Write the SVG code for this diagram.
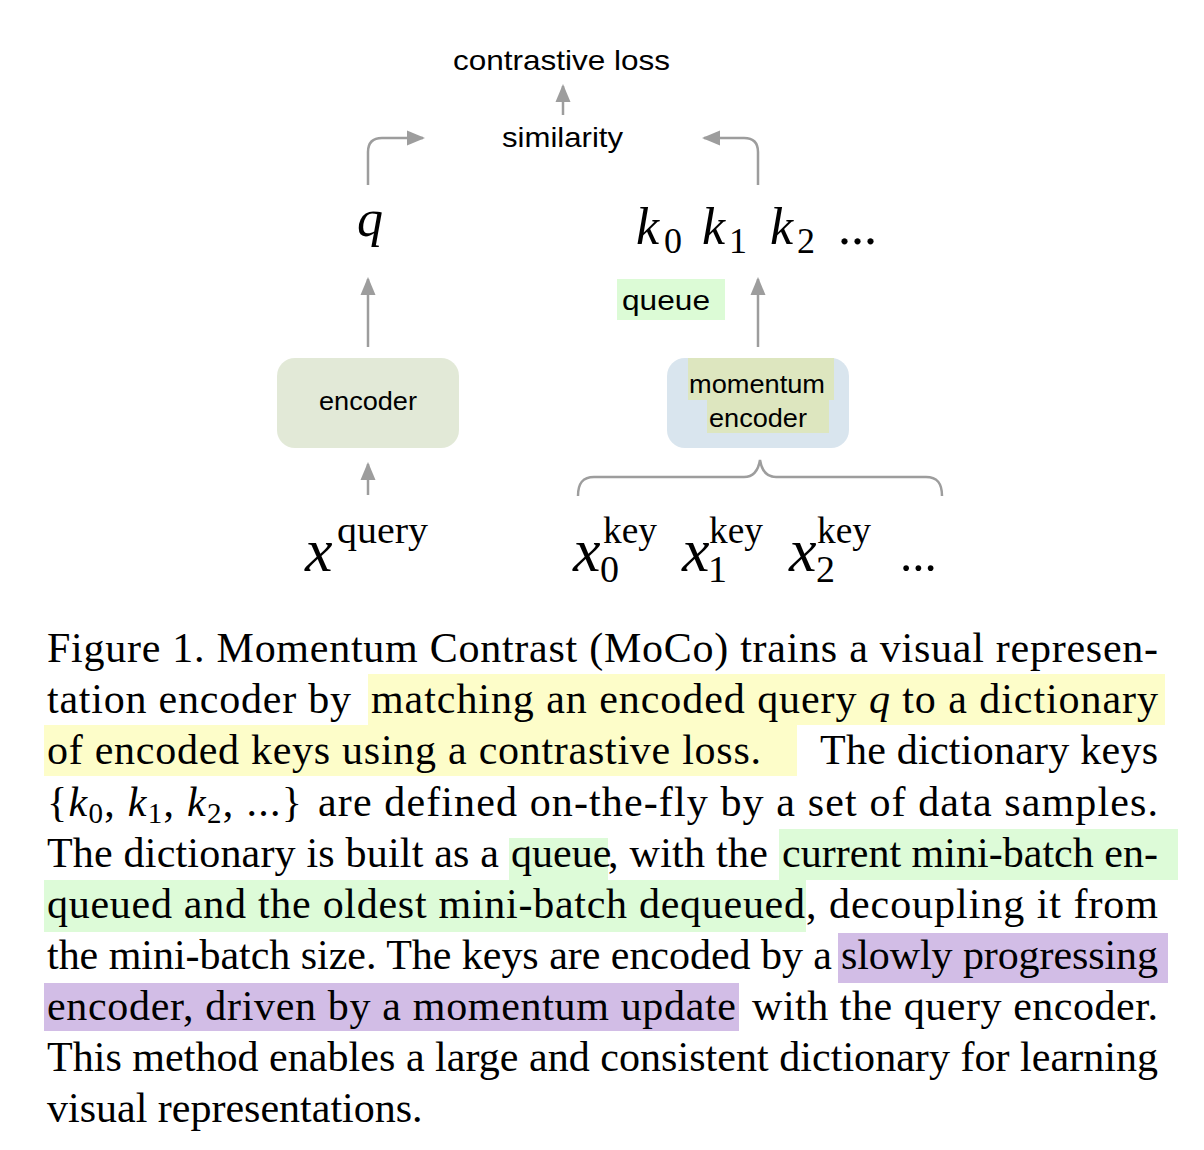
<svg xmlns="http://www.w3.org/2000/svg" width="1204" height="1150" viewBox="0 0 1204 1150">
<defs>
<marker id="ah" markerUnits="userSpaceOnUse" markerWidth="20" markerHeight="16" refX="16" refY="8" orient="auto"><path d="M0,0.5 L18,8 L0,15.5 z" fill="#9d9d9d"/></marker>
</defs>
<style>
.sans{font-family:"Liberation Sans",Arial,sans-serif;fill:#000}
.mi{font-family:"Liberation Serif","Times New Roman",serif;font-style:italic;fill:#000}
.rm{font-family:"Liberation Serif","Times New Roman",serif;fill:#000}
.cap{font-family:"Liberation Serif","Times New Roman",serif;font-size:42px;fill:#000}
.conn{fill:none;stroke:#9d9d9d;stroke-width:2.5}
</style>
<rect width="1204" height="1150" fill="#fff"/>

<g id="connectors" class="conn">
<path d="M368,185 V152 Q368,138 382,138 H423" marker-end="url(#ah)"/>
<path d="M758,185 V152 Q758,138 744,138 H704" marker-end="url(#ah)"/>
<path d="M563,115 V86" marker-end="url(#ah)"/>
<path d="M368,347 V279" marker-end="url(#ah)"/>
<path d="M758,347 V279" marker-end="url(#ah)"/>
<path d="M368,495 V464" marker-end="url(#ah)"/>
<path d="M578,496 C578,484 582,477 594,477 H744 C753,477 758,472 760,460 C762,472 767,477 776,477 H926 C938,477 942,484 942,496"/>
</g>

<g id="loss"><text class="sans" x="453" y="70" font-size="28" textLength="217" lengthAdjust="spacingAndGlyphs">contrastive loss</text></g>
<g id="similarity"><text class="sans" x="502" y="147" font-size="28" textLength="121" lengthAdjust="spacingAndGlyphs">similarity</text></g>

<g id="q"><text class="mi" x="357" y="236" font-size="52">q</text></g>
<g id="keys">
<text class="mi" x="636" y="244" font-size="52">k</text><text class="rm" x="664" y="253" font-size="36">0</text>
<text class="mi" x="702" y="244" font-size="52">k</text><text class="rm" x="729" y="253" font-size="36">1</text>
<text class="mi" x="770" y="244" font-size="52">k</text><text class="rm" x="797" y="253" font-size="36">2</text>
<text class="rm" x="838" y="244" font-size="52">...</text>
</g>

<g id="queue">
<rect x="617" y="279" width="108" height="41" fill="#dcfbd6"/>
<text class="sans" x="622" y="310" font-size="28" textLength="88" lengthAdjust="spacingAndGlyphs">queue</text>
</g>

<g id="encoder">
<rect x="277" y="358" width="182" height="90" rx="18" fill="#e2e9d7"/>
<text class="sans" x="319" y="410" font-size="25" textLength="98" lengthAdjust="spacingAndGlyphs">encoder</text>
</g>

<g id="momentum-encoder">
<rect x="667" y="358" width="182" height="90" rx="18" fill="#d9e5ee"/>
<rect x="688" y="358" width="146" height="42" fill="#dde6bf"/>
<rect x="707" y="400" width="122" height="33" fill="#dde6bf"/>
<text class="sans" x="689" y="393" font-size="25" textLength="136" lengthAdjust="spacingAndGlyphs">momentum</text>
<text class="sans" x="709" y="427" font-size="25" textLength="98" lengthAdjust="spacingAndGlyphs">encoder</text>
</g>

<g id="x-query">
<text class="mi" x="305" y="571" font-size="62">x</text>
<text class="rm" x="337" y="543" font-size="38" textLength="91" lengthAdjust="spacingAndGlyphs">query</text>
</g>
<g id="x-keys">
<text class="mi" x="573" y="571" font-size="62">x</text><text class="rm" x="600" y="582" font-size="38">0</text><text class="rm" x="603" y="543" font-size="38" textLength="54" lengthAdjust="spacingAndGlyphs">key</text>
<text class="mi" x="682" y="571" font-size="62">x</text><text class="rm" x="708" y="582" font-size="38">1</text><text class="rm" x="709" y="543" font-size="38" textLength="54" lengthAdjust="spacingAndGlyphs">key</text>
<text class="mi" x="789" y="571" font-size="62">x</text><text class="rm" x="816" y="582" font-size="38">2</text><text class="rm" x="817" y="543" font-size="38" textLength="54" lengthAdjust="spacingAndGlyphs">key</text>
<text class="rm" x="900" y="571" font-size="49">...</text>
</g>

<g id="caption">
<rect x="368" y="674" width="797" height="51" fill="#fdfdc9"/>
<rect x="44" y="725" width="753" height="51" fill="#fdfdc9"/>
<rect x="509" y="838" width="99" height="42" fill="#ddfbd8"/>
<rect x="779" y="829" width="399" height="51" fill="#ddfbd8"/>
<rect x="44" y="880" width="762" height="52" fill="#ddfbd8"/>
<rect x="838" y="933" width="330" height="50" fill="#d2bde6"/>
<rect x="44" y="983" width="695" height="48" fill="#d2bde6"/>

<text class="cap" x="47" y="662" textLength="1111" lengthAdjust="spacing">Figure 1. Momentum Contrast (MoCo) trains a visual represen-</text>
<text class="cap" x="47" y="713" textLength="304" lengthAdjust="spacing">tation encoder by</text>
<text class="cap" x="371" y="713" textLength="787" lengthAdjust="spacing">matching an encoded query <tspan font-style="italic">q</tspan> to a dictionary</text>
<text class="cap" x="47" y="764" textLength="714" lengthAdjust="spacing">of encoded keys using a contrastive loss.</text>
<text class="cap" x="820" y="764" textLength="338" lengthAdjust="spacing">The dictionary keys</text>
<text class="cap" x="47" y="816" textLength="255" lengthAdjust="spacing">{<tspan font-style="italic">k</tspan><tspan font-size="29" dy="7">0</tspan><tspan dy="-7">, </tspan><tspan font-style="italic">k</tspan><tspan font-size="29" dy="7">1</tspan><tspan dy="-7">, </tspan><tspan font-style="italic">k</tspan><tspan font-size="29" dy="7">2</tspan><tspan dy="-7">, ...}</tspan></text>
<text class="cap" x="318" y="816" textLength="840" lengthAdjust="spacing">are defined on-the-fly by a set of data samples.</text>
<text class="cap" x="47" y="867" textLength="452" lengthAdjust="spacing">The dictionary is built as a</text>
<text class="cap" x="511" y="867">queue</text>
<text class="cap" x="608" y="867" textLength="160" lengthAdjust="spacing">, with the</text>
<text class="cap" x="782" y="867" textLength="376" lengthAdjust="spacing">current mini-batch en-</text>
<text class="cap" x="47" y="918" textLength="758" lengthAdjust="spacing">queued and the oldest mini-batch dequeued</text>
<text class="cap" x="806" y="918" textLength="352" lengthAdjust="spacing">, decoupling it from</text>
<text class="cap" x="47" y="969" textLength="785" lengthAdjust="spacing">the mini-batch size. The keys are encoded by a</text>
<text class="cap" x="841" y="969" textLength="317" lengthAdjust="spacing">slowly progressing</text>
<text class="cap" x="47" y="1020" textLength="689" lengthAdjust="spacing">encoder, driven by a momentum update</text>
<text class="cap" x="752" y="1020" textLength="406" lengthAdjust="spacing">with the query encoder.</text>
<text class="cap" x="47" y="1071" textLength="1111" lengthAdjust="spacing">This method enables a large and consistent dictionary for learning</text>
<text class="cap" x="47" y="1122">visual representations.</text>
</g>
</svg>
